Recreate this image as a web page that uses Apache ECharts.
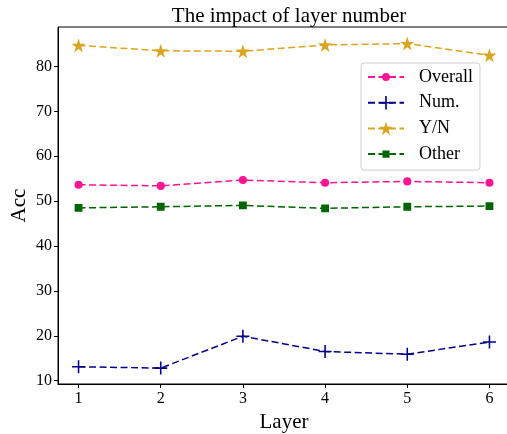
<!DOCTYPE html>
<html><head><meta charset="utf-8">
<script src="https://cdn.jsdelivr.net/npm/echarts@6/dist/echarts.min.js"></script>
<style>html,body{margin:0;padding:0;background:#fff}#c{width:507px;height:434px}</style>
</head><body><div id="c"></div>
<script>
const layers = [1, 2, 3, 4, 5, 6];
const overall = [53.65, 53.4, 54.7, 54.1, 54.4, 54.1];
const num = [13.1, 12.8, 19.9, 16.5, 15.9, 18.6];
const yn = [84.7, 83.5, 83.4, 84.8, 85.1, 82.5];
const other = [48.5, 48.75, 49.05, 48.4, 48.75, 48.9];
const yTicks = [10, 20, 30, 40, 50, 60, 70, 80];

const FONT = '"Liberation Serif", "Times New Roman", serif';
const plus = 'path://M-0.12,-1 L0.12,-1 L0.12,-0.12 L1,-0.12 L1,0.12 L0.12,0.12 L0.12,1 L-0.12,1 L-0.12,0.12 L-1,0.12 L-1,-0.12 L-0.12,-0.12Z';
const star = 'path://M0,-1 L0.2245,-0.309 L0.9511,-0.309 L0.3633,0.118 L0.5878,0.809 L0,0.382 L-0.5878,0.809 L-0.3633,0.118 L-0.9511,-0.309 L-0.2245,-0.309Z';
// small shapes inside a larger, practically invisible bounding frame (so the legend icon stays small)
const frame = 'M-1,-1 L-0.995,-1 L-1,-0.995 Z M1,1 L0.995,1 L1,0.995 Z ';
const smallCircle = 'path://' + frame + 'M0.58,0 A0.58,0.58 0 1,1 -0.58,0 A0.58,0.58 0 1,1 0.58,0 Z';
const smallRect = 'path://' + frame + 'M-0.52,-0.52 L0.52,-0.52 L0.52,0.52 L-0.52,0.52 Z';

function mk(name, vals, color, symbol, size) {
  return {
    name, type: 'line', data: layers.map((l, i) => [l, vals[i]]),
    symbol, symbolSize: size, showSymbol: true,
    lineStyle: { color, width: 1.5, type: [7, 3.5] },
    itemStyle: { color, borderWidth: 0 },
    emphasis: { disabled: true }, animation: false, z: 3
  };
}

const chart = echarts.init(document.getElementById('c'));
chart.setOption({
  animation: false,
  backgroundColor: '#fff',
  title: {
    text: 'The impact of layer number', left: 284, top: 1, textAlign: 'center',
    textStyle: { fontFamily: FONT, fontSize: 21, fontWeight: 'normal', color: '#000' }
  },
  grid: { left: 58, top: 27, width: 452, height: 357, outerBoundsMode: 'none', containLabel: false,
          show: true, borderColor: '#000', borderWidth: 1, backgroundColor: 'transparent' },
  legend: {
    orient: 'vertical', left: 361, top: 63,
    padding: [5, 7, 7, 6], itemGap: 7.7, itemWidth: 36, itemHeight: 17,
    backgroundColor: '#fff', borderColor: '#d0d0d0', borderWidth: 1, borderRadius: 3,
    textStyle: { fontFamily: FONT, fontSize: 18, color: '#000', padding: [0, 0, 0, 10], lineHeight: 16 },
    data: ['Overall', 'Num.', 'Y/N', 'Other']
  },
  xAxis: {
    type: 'value', min: 0.75, max: 6.25,
    name: 'Layer', nameLocation: 'middle', nameGap: 28,
    nameTextStyle: { fontFamily: FONT, fontSize: 21, color: '#000' },
    axisLine: { show: true, lineStyle: { color: '#000', width: 1 } },
    axisTick: { show: true, inside: false, length: 4, lineStyle: { color: '#000' }, customValues: layers },
    axisLabel: { fontFamily: FONT, fontSize: 16, color: '#000', margin: 7, customValues: layers },
    splitLine: { show: false }
  },
  yAxis: {
    type: 'value', min: 9.26, max: 88.8,
    name: 'Acc', nameLocation: 'middle', nameGap: 28, nameMoveOverlap: false,
    nameTextStyle: { fontFamily: FONT, fontSize: 21, color: '#000' },
    axisLine: { show: true, lineStyle: { color: '#000', width: 1 } },
    axisTick: { show: true, inside: false, length: 4, lineStyle: { color: '#000' }, customValues: yTicks },
    axisLabel: { fontFamily: FONT, fontSize: 16, color: '#000', margin: 6, customValues: yTicks },
    splitLine: { show: false }
  },
  series: [
    mk('Overall', overall, '#FF1493', smallCircle, 14),
    mk('Num.', num, '#00008B', plus, 13),
    mk('Y/N', yn, '#DAA520', star, 14),
    mk('Other', other, '#006400', smallRect, 15)
  ]
});
</script></body></html>
